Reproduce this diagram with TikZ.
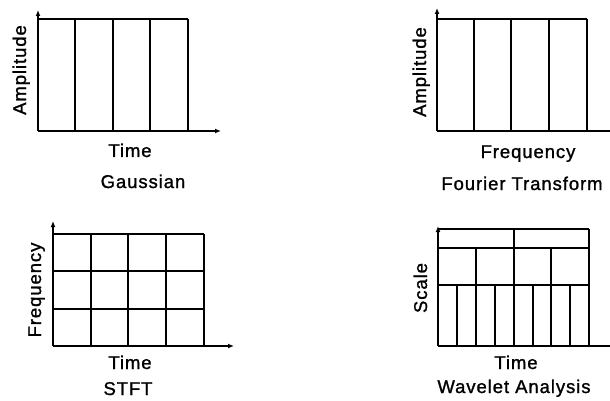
\documentclass[tikz,border=0pt]{standalone}
\usepackage{fontspec}
\setmainfont{Liberation Sans}[LetterSpace=5, FakeBold=1.2]
\usetikzlibrary{arrows.meta}

\begin{document}
\begin{tikzpicture}[x=1pt,y=-1pt,
  axis/.style={line width=2pt, -{Latex[length=6pt,width=5pt]}},
  cell/.style={line width=2pt},
  lbl/.style={anchor=base, inner sep=0pt, font=\fontsize{18.5}{20}\selectfont},
  ylbl/.style={lbl, rotate=90}]
\useasboundingbox (0,0) rectangle (610,401);
% Gaussian
\draw[axis] (38,131) -- (38,10);
\draw[axis] (38,131) -- (221,131);
\draw[cell] (38,19) -- (188,19);
\foreach \x in {75,113,150,188} \draw[cell] (\x,19) -- (\x,131);
\node[ylbl] (ampA) at (26,70) {Amplitude};
\node[lbl] (timeA) at (130,157) {Time};
\node[lbl] (gauss) at (143,188) {Gaussian};
% Fourier Transform
\draw[axis] (437,131) -- (437,8);
\draw[axis] (437,131) -- (622,131);
\draw[cell] (437,19) -- (587,19);
\foreach \x in {474,511,549,587} \draw[cell] (\x,19) -- (\x,131);
\node[ylbl] (ampB) at (426,72) {Amplitude};
\node[lbl] (freqB) at (528,158) {Frequency};
\node[lbl] (fourier) at (522,190) {Fourier Transform};
% STFT
\draw[axis] (53,346) -- (53,221);
\draw[axis] (53,346) -- (234,346);
\foreach \y in {234,271,309} \draw[cell] (53,\y) -- (204,\y);
\foreach \x in {91,128,166,204} \draw[cell] (\x,234) -- (\x,346);
\node[ylbl] (freqC) at (41,290) {Frequency};
\node[lbl] (timeC) at (130,369) {Time};
\node[lbl] (stft) at (128,395) {STFT};
% Wavelet Analysis
\draw[axis] (438,346) -- (438,226);
\draw[axis] (438,346) -- (622,346);
\foreach \y in {229,248,285} \draw[cell] (438,\y) -- (589,\y);
\draw[cell] (589,229) -- (589,346);
\draw[cell] (514,229) -- (514,346);
\foreach \x in {476,551} \draw[cell] (\x,248) -- (\x,346);
\foreach \x in {457,495,533,570} \draw[cell] (\x,285) -- (\x,346);
\node[ylbl] (scale) at (427,288) {Scale};
\node[lbl] (timeD) at (516,369) {Time};
\node[lbl] (wavelet) at (514,393) {Wavelet Analysis};
\end{tikzpicture}
\end{document}
